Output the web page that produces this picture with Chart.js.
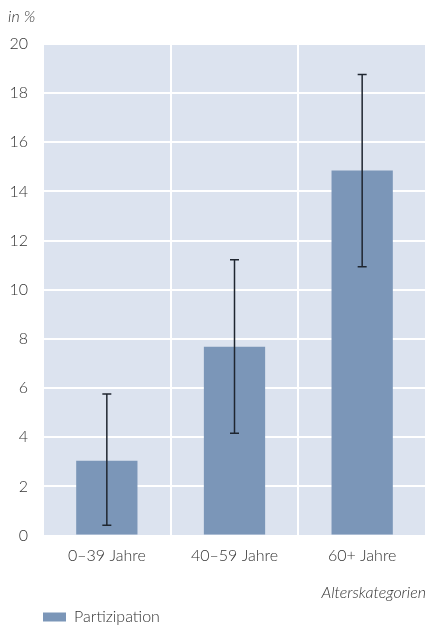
<!DOCTYPE html>
<html>
<head>
<meta charset="utf-8">
<script src="https://cdn.jsdelivr.net/npm/chart.js@4"></script>
<style>
  body { margin: 0; background: #fff; }
  #wrap { width: 427px; height: 629px; }
</style>
</head>
<body>
<div id="wrap"><canvas id="chart" width="427" height="629"></canvas></div>
<script>
// Werte
const categories = ['0–39 Jahre', '40–59 Jahre', '60+ Jahre'];
const participation = [3.05, 7.68, 14.85];
const errLow = [0.42, 4.16, 10.94];
const errHigh = [5.76, 11.22, 18.76];
const yTicks = [0, 2, 4, 6, 8, 10, 12, 14, 16, 18, 20];

const fontFamily = "Lato, 'Open Sans', sans-serif";
const textColor = '#333333';

// Hintergrund der Zeichenfläche, Legende unter die Zeichenfläche schieben
const bgPlugin = {
    id: 'plotBg',
    afterLayout(chart) {
        if (chart.legend) {
            chart.legend.left = chart.chartArea.left;
            chart.legend.top = 609;
        }
    },
    beforeDraw(chart) {
        const a = chart.chartArea;
        const ctx = chart.ctx;
        ctx.save();
        ctx.fillStyle = '#dce3ef';
        ctx.fillRect(a.left, a.top, a.right - a.left, a.bottom - a.top);
        ctx.restore();
    }
};

// Fehlerbalken und "in %" Beschriftung
const errPlugin = {
    id: 'errBars',
    afterDatasetsDraw(chart) {
        const ctx = chart.ctx;
        const x = chart.scales.x;
        const y = chart.scales.y;
        ctx.save();
        ctx.strokeStyle = '#1f2630';
        ctx.lineWidth = 1.5;
        categories.forEach((c, i) => {
            const px = x.getPixelForValue(i);
            const top = y.getPixelForValue(errHigh[i]);
            const bot = y.getPixelForValue(errLow[i]);
            ctx.beginPath();
            ctx.moveTo(px, top);
            ctx.lineTo(px, bot);
            ctx.moveTo(px - 4.5, top);
            ctx.lineTo(px + 4.5, top);
            ctx.moveTo(px - 4.5, bot);
            ctx.lineTo(px + 4.5, bot);
            ctx.stroke();
        });
        ctx.fillStyle = textColor;
        ctx.font = 'italic 300 16px ' + fontFamily;
        ctx.textBaseline = 'middle';
        ctx.fillText('in %', 8, 17);
        ctx.restore();
    }
};

new Chart(document.getElementById('chart').getContext('2d'), {
    type: 'bar',
    data: {
        labels: categories,
        datasets: [{
            label: 'Partizipation',
            data: participation,
            backgroundColor: '#7b96b8',
            borderWidth: 0,
            barPercentage: 0.96,
            categoryPercentage: 0.5
        }]
    },
    options: {
        responsive: false,
        animation: false,
        layout: { padding: { top: 44, right: 1, left: 0, bottom: 0 } },
        plugins: {
            tooltip: { enabled: false },
            legend: {
                position: 'bottom',
                align: 'start',
                labels: {
                    boxWidth: 23,
                    boxHeight: 9,
                    color: textColor,
                    font: { family: fontFamily, size: 16, weight: 300 },
                    padding: 0
                }
            }
        },
        scales: {
            x: {
                grid: { color: '#ffffff', lineWidth: 2, drawTicks: false, offset: true },
                border: { display: false },
                ticks: {
                    color: textColor,
                    font: { family: fontFamily, size: 16, weight: 300 },
                    padding: 11
                },
                title: {
                    display: true,
                    text: 'Alterskategorien',
                    align: 'end',
                    color: textColor,
                    font: { family: fontFamily, size: 16, style: 'italic', weight: 300 },
                    padding: { top: 6, bottom: 1 }
                }
            },
            y: {
                min: 0,
                max: 20,
                afterBuildTicks(scale) {
                    scale.ticks = yTicks.map(v => ({ value: v }));
                },
                afterFit(scale) { scale.width = 43; },
                grid: { color: '#ffffff', lineWidth: 2, drawTicks: false },
                border: { display: false },
                ticks: {
                    color: textColor,
                    font: { family: fontFamily, size: 16, weight: 300 },
                    padding: 15
                }
            }
        }
    },
    plugins: [bgPlugin, errPlugin]
});
</script>
</body>
</html>
